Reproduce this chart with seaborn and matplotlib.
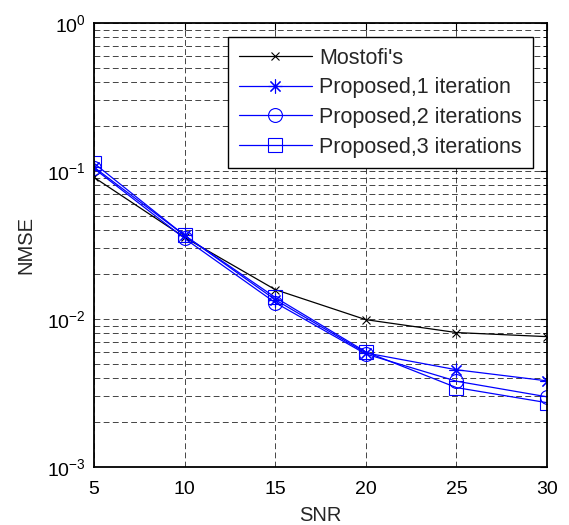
import matplotlib
matplotlib.use("Agg")
import matplotlib.pyplot as plt
import seaborn as sns
import pandas as pd
import numpy as np
from matplotlib.ticker import LogLocator, FixedLocator, NullFormatter

snr = [5, 10, 15, 20, 25, 30]
mostofi = [0.0906, 0.0356, 0.0158, 0.0099, 0.0081, 0.0076]
prop1 = [0.106, 0.0367, 0.0135, 0.0059, 0.00454, 0.00382]
prop2 = [0.104, 0.0350, 0.0129, 0.0058, 0.0038, 0.00298]
prop3 = [0.1128, 0.0367, 0.0140, 0.0060, 0.00344, 0.00272]
labels = ["Mostofi's", "Proposed,1 iteration", "Proposed,2 iterations", "Proposed,3 iterations"]

sns.set_style("white")
plt.rcParams['font.family'] = ['Liberation Sans', 'DejaVu Sans']
plt.rcParams['mathtext.fontset'] = 'custom'
plt.rcParams['mathtext.rm'] = 'Liberation Sans'
plt.rcParams['mathtext.default'] = 'regular'
plt.rcParams['axes.unicode_minus'] = False

fig = plt.figure(figsize=(5.69, 5.25), dpi=100)
ax = fig.add_axes([94/569, 1-467/525, (547-94)/569, (467-23)/525])

series = [mostofi, prop1, prop2, prop3]
colors = ['black', '#0000ff', '#0000ff', '#0000ff']
markers = ['x', (8, 2, 0), 'o', 's']
msizes = [6, 10, 10, 10]
for vals, lab, c, m, ms in zip(series, labels, colors, markers, msizes):
    df = pd.DataFrame({'SNR': snr, 'NMSE': vals})
    sns.lineplot(data=df, x='SNR', y='NMSE', ax=ax, color=c, marker=m,
                 markersize=ms, markerfacecolor='none', markeredgecolor=c,
                 markeredgewidth=0.8, linewidth=0.9, label=lab)

ax.set_yscale('log')
ax.set_xlim(5, 30)
ax.set_ylim(1e-3, 1)
ax.xaxis.set_major_locator(FixedLocator(snr))
ax.yaxis.set_major_locator(LogLocator(base=10, numticks=10))
ax.yaxis.set_minor_locator(LogLocator(base=10, subs=np.arange(2, 10), numticks=20))
ax.yaxis.set_minor_formatter(NullFormatter())

dash = (0, (7, 4))
ax.grid(True, which='major', axis='both', color='black', linestyle=dash, linewidth=0.6, alpha=0.85)
ax.grid(True, which='minor', axis='y', color='black', linestyle=dash, linewidth=0.6, alpha=0.85)

for s in ax.spines.values():
    s.set_color('black')
    s.set_linewidth(1.3)

ax.tick_params(which='both', direction='in', top=True, right=True, labelsize=14, colors='black')
ax.tick_params(which='major', length=5, width=0.8)
ax.tick_params(axis='x', which='major', pad=10)
ax.tick_params(axis='y', which='major', pad=6)
ax.tick_params(which='minor', length=3, width=0.6)

ax.set_xlabel('SNR', fontsize=14.5, labelpad=6)
ax.set_ylabel('NMSE', fontsize=14.5, labelpad=8)

leg = ax.legend(loc='upper right', bbox_to_anchor=(1 - 14/453, 1 - 14/444), fontsize=15.5,
                frameon=True, fancybox=False, edgecolor='black', framealpha=1,
                handlelength=3.4, borderpad=0.5, labelspacing=0.4, handletextpad=0.35,
                borderaxespad=0)
leg.get_frame().set_linewidth(1.0)

fig.savefig('out.png', dpi=100)
